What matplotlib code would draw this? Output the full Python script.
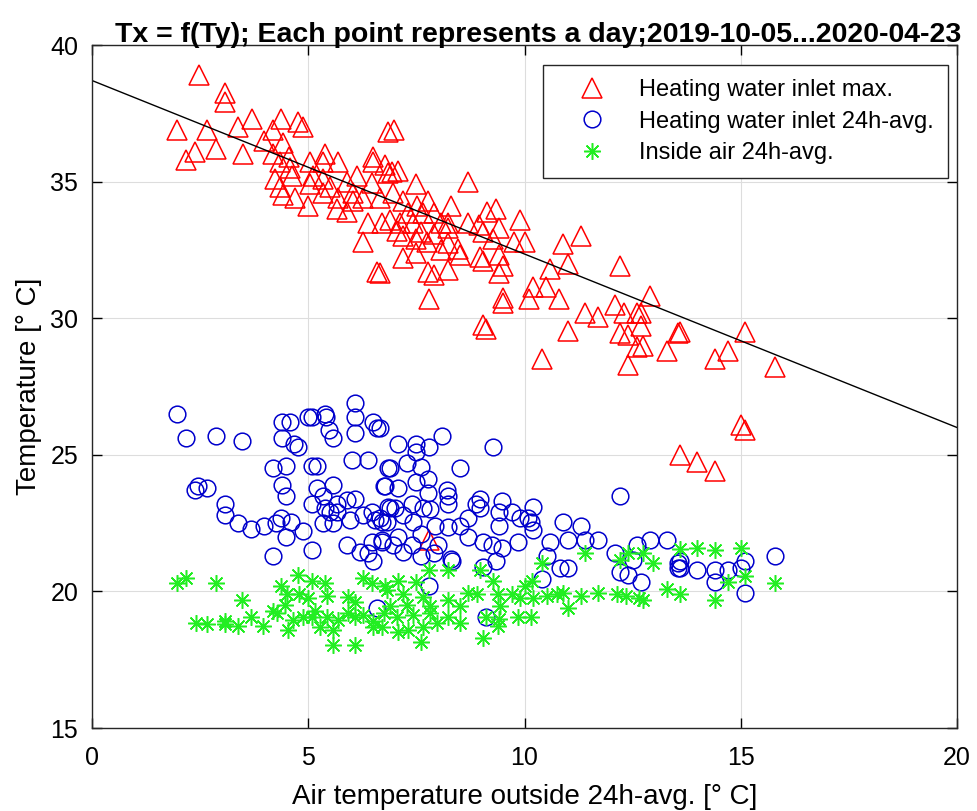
import numpy as np
import matplotlib
matplotlib.use('Agg')
import matplotlib.pyplot as plt

plt.rcParams['font.family'] = ['Liberation Sans', 'DejaVu Sans']

# Heating water inlet max (red triangles)
tri_x = [2.48, 3.08, 3.08, 1.97, 2.66, 3.38, 3.7, 2.38, 2.18, 2.87, 3.5, 4.38, 4.77, 4.88,
         4.19, 3.98, 4.42, 4.19, 4.56, 4.35, 4.58, 4.63, 4.24, 4.35, 4.42, 4.7, 5.0, 5.05,
         5.39, 5.35, 5.69, 5.1, 5.05, 5.35, 5.51, 5.35, 5.69, 5.67, 5.9, 5.9, 6.13, 6.04,
         6.04, 6.27, 6.5, 6.5, 6.78, 6.48, 6.67, 6.39, 6.71, 6.27, 6.6, 6.85, 6.85,
         6.99, 7.08, 6.94, 7.5, 8.7, 6.97, 7.2, 7.78, 8.29, 7.52, 7.31, 7.66, 7.9, 9.14,
         9.33, 9.9, 6.9, 7.13, 7.43, 8.06, 8.22, 8.7, 8.94, 9.4, 7.06, 7.6, 7.9, 8.22,
         9.05, 7.2, 7.48, 7.75, 8.22, 9.28, 9.75, 10.02, 8.06, 8.47, 8.52, 8.98, 9.03,
         9.4, 9.5, 7.48, 7.2, 10.9, 11.3, 11.0, 10.6, 12.2, 7.78, 7.9, 8.22, 9.4, 6.67,
         10.2, 10.5, 10.8, 9.5, 9.5, 10.1, 7.8, 12.9, 12.1, 12.3, 11.7, 11.4, 12.6, 12.7,
         9.03, 9.1, 11.0, 12.2, 12.4, 12.7, 12.6, 12.75, 12.4, 10.4, 13.55,
         13.6, 15.1, 13.3, 14.7, 14.4, 15.8, 15.0, 15.1, 13.6, 14.0, 14.4, 7.8]
tri_y = [38.9, 38.24, 37.9, 36.9, 36.9, 37.0, 37.3, 36.1, 35.8, 36.2, 36.0, 37.3, 37.2, 37.0,
         36.9, 36.5, 36.4, 36.0, 35.9, 35.7, 35.5, 35.2, 35.1, 34.8, 34.5, 34.4, 34.1, 35.7,
         36.0, 35.7, 35.7, 35.2, 34.9, 35.1, 34.8, 34.6, 34.4, 34.0, 33.9, 35.0, 35.2, 34.6,
         34.3, 34.4, 35.9, 35.7, 35.6, 34.95, 34.4, 33.5, 33.5, 32.8, 31.7, 36.8, 35.3,
         36.9, 35.4, 35.35, 34.9, 35.0, 34.6, 34.3, 34.3, 34.1, 34.1, 33.85, 33.85, 33.85, 33.9,
         34.0, 33.6, 33.6, 33.5, 33.5, 33.5, 33.5, 33.5, 33.4, 33.3, 33.2, 33.15, 33.1, 33.3,
         33.15, 33.0, 32.9, 32.8, 32.75, 32.9, 32.8, 32.8, 32.5, 32.55, 32.3, 32.25, 32.1,
         32.3, 31.9, 32.4, 32.2, 32.7, 33.0, 32.0, 31.8, 31.9, 31.7, 31.6, 31.75, 31.65, 31.65,
         31.15, 31.15, 30.7, 30.75, 30.55, 30.7, 30.7, 30.8, 30.5, 30.2, 30.05, 30.2, 30.2, 30.2,
         29.75, 29.6, 29.55, 29.45, 29.4, 29.7, 28.95, 29.0, 28.3, 28.5, 29.45,
         29.5, 29.5, 28.8, 28.8, 28.5, 28.2, 26.1, 25.9, 25.0, 24.75, 24.4, 21.9]

# Heating water inlet 24h-avg (blue circles)
circ_x = [1.97, 2.18, 2.87, 3.47, 4.4, 4.58, 4.4, 4.68, 4.77, 5.0, 5.09, 5.39, 5.42, 5.49,
          5.58, 6.09, 6.09, 6.09, 6.5, 6.6, 4.19, 4.49, 5.09, 5.2, 6.0, 6.39, 6.85, 4.4,
          4.49, 2.38, 2.45, 2.66, 5.2, 5.58, 6.74, 3.08, 3.08, 3.38, 3.68, 3.98, 4.26, 4.37,
          4.6, 4.49, 4.88, 4.19, 5.09, 5.09, 5.35, 5.39, 5.67, 5.9, 6.09, 5.51, 5.67, 5.35,
          5.58, 5.97, 6.27, 6.48, 6.55, 6.71, 6.9, 5.9, 6.2, 6.48, 6.71, 6.39, 6.5, 6.6,
          6.67, 8.1, 7.08, 7.5, 7.8, 9.28, 7.5, 6.9, 7.29, 7.6, 8.5, 7.78, 7.48, 6.78,
          7.08, 7.78, 8.2, 8.22, 8.22, 8.98, 9.49, 10.2, 12.2, 6.85, 7.0, 7.4, 7.66, 7.82,
          8.87, 8.98, 9.4, 9.72, 9.9, 10.07, 10.14, 6.67, 7.18, 6.83, 7.43, 8.7, 8.52, 9.4,
          10.9, 11.3, 10.2, 8.22, 7.94, 7.6, 7.08, 6.71, 6.97, 7.4, 8.0, 8.7, 9.03, 9.26,
          9.49, 9.84, 10.6, 11.0, 11.4, 11.7, 7.2, 7.6, 7.9, 8.29, 8.33, 9.03, 9.33, 10.53,
          10.83, 11.0, 10.4, 12.1, 12.6, 12.9, 13.3, 12.2, 12.4, 12.7, 12.5, 13.55, 13.55,
          7.8, 9.12, 13.6, 13.6, 14.0, 14.4, 14.4, 14.7, 15.0, 15.1, 15.1, 15.8]
circ_y = [26.5, 25.6, 25.7, 25.5, 26.2, 26.2, 25.6, 25.4, 25.3, 26.4, 26.4, 26.5, 26.4, 25.9,
          25.6, 26.9, 26.4, 25.8, 26.2, 26.0, 24.5, 24.6, 24.6, 24.6, 24.8, 24.8, 24.5, 23.9,
          23.5, 23.7, 23.85, 23.8, 23.8, 23.9, 23.85, 23.2, 22.8, 22.5, 22.3, 22.4, 22.5, 22.7,
          22.55, 22.0, 22.2, 21.3, 21.5, 23.2, 23.5, 23.05, 23.2, 23.35, 23.4, 22.9, 22.9, 22.5,
          22.5, 22.6, 22.8, 22.9, 22.6, 22.55, 23.05, 21.7, 21.45, 21.8, 21.9, 21.4, 21.1, 19.4,
          26.0, 25.7, 25.4, 25.4, 25.3, 25.3, 25.1, 24.5, 24.7, 24.55, 24.5, 24.1, 24.0, 23.85,
          23.8, 23.6, 23.7, 23.5, 23.2, 23.4, 23.3, 23.1, 23.5, 23.1, 23.05, 23.2, 23.05, 23.0,
          23.2, 23.05, 22.9, 22.9, 22.7, 22.7, 22.55, 22.7, 22.8, 22.55, 22.55, 22.7, 22.4, 22.4,
          22.55, 22.4, 22.25, 22.35, 22.4, 22.1, 22.0, 21.8, 21.7, 21.7, 21.7, 22.0, 21.8, 21.7,
          21.6, 21.8, 21.8, 21.9, 21.9, 21.9, 21.45, 21.3, 21.4, 21.2, 21.1, 20.9, 21.1, 21.3,
          20.85, 20.85, 20.45, 21.4, 21.7, 21.9, 21.9, 20.7, 20.6, 20.35, 21.15, 21.05, 20.85,
          20.2, 19.05, 21.1, 20.85, 20.8, 20.8, 20.35, 20.8, 20.85, 21.1, 19.95, 21.3]

# Inside air 24h-avg (green stars)
star_x = [1.97, 2.18, 2.87, 3.47, 2.4, 2.66, 3.08, 3.08, 3.38, 3.68, 3.96, 4.19, 4.28, 4.37,
          4.51, 4.47, 4.54, 4.65, 4.77, 4.79, 5.0, 5.09, 5.39, 5.44, 4.88, 5.16, 5.09, 5.28,
          5.44, 5.58, 5.58, 5.69, 5.93, 6.09, 5.93, 6.09, 6.09, 6.27, 6.48, 6.27, 6.5, 6.5,
          6.74, 6.78, 7.8, 8.22, 8.98, 10.4, 11.4, 7.08, 7.48, 9.28, 10.02, 10.18, 6.83, 7.2,
          7.66, 8.7, 8.91, 9.38, 9.72, 9.9, 10.2, 10.53, 10.76, 10.9, 11.3, 11.7, 12.15, 12.34,
          12.64, 12.73, 13.3, 6.9, 7.29, 7.82, 8.22, 8.52, 9.44, 11.0, 7.06, 7.43, 7.82, 8.22,
          7.98, 8.52, 9.1, 9.4, 9.84, 10.14, 7.08, 7.31, 7.66, 7.6, 9.03, 9.38, 6.71,
          12.2, 12.4, 12.75, 12.96, 13.6, 14.0, 14.4, 15.0, 15.1, 14.7, 13.6, 14.4, 15.8]
star_y = [20.3, 20.5, 20.3, 19.7, 18.85, 18.8, 18.8, 18.9, 18.75, 19.05, 18.75, 19.3, 19.2, 20.2,
          19.9, 19.5, 18.6, 18.95, 20.6, 19.9, 19.75, 20.4, 20.3, 19.85, 19.05, 19.3, 19.05, 18.7,
          19.05, 18.6, 18.05, 18.95, 19.8, 19.6, 19.2, 19.05, 18.05, 20.5, 20.3, 19.15, 18.9, 18.7,
          19.2, 20.2, 20.8, 20.8, 20.8, 21.05, 21.4, 20.4, 20.35, 20.4, 20.2, 20.4, 20.05, 19.9,
          19.8, 19.95, 19.9, 19.9, 19.9, 19.75, 19.75, 19.85, 19.9, 19.95, 19.85, 19.95, 19.9, 19.85,
          19.75, 19.7, 20.1, 19.45, 19.5, 19.45, 19.7, 19.45, 19.45, 19.4, 19.05, 19.15, 19.2, 19.05,
          18.85, 18.85, 19.05, 19.0, 19.05, 19.05, 18.5, 18.6, 18.7, 18.15, 18.3, 18.75, 18.7,
          21.15, 21.4, 21.4, 21.05, 21.55, 21.6, 21.5, 21.6, 20.55, 20.35, 19.9, 19.7, 20.3]

# regression line of the max inlet temperature
fit_x = [0, 20]
fit_y = [38.7, 26.0]

fig = plt.figure(figsize=(9.77, 8.11), dpi=100)
ax = fig.add_axes([0.0942, 0.1023, 0.8853, 0.8422])

ax.plot(tri_x, tri_y, linestyle='none', marker='^', markersize=14, markerfacecolor='none',
        markeredgecolor='red', markeredgewidth=1.1, label='Heating water inlet max.')
ax.plot(circ_x, circ_y, linestyle='none', marker='o', markersize=12, markerfacecolor='none',
        markeredgecolor='#0000cc', markeredgewidth=1.1, label='Heating water inlet 24h-avg.')
ax.plot(star_x, star_y, linestyle='none', marker=(8, 2, 0), markersize=12,
        markeredgecolor='#22ee22', markeredgewidth=1.1, label='Inside air 24h-avg.')
ax.plot(fit_x, fit_y, color='black', linewidth=1.0)

ax.set_xlim(0, 20)
ax.set_ylim(15, 40)
ax.set_xticks([0, 5, 10, 15, 20])
ax.set_yticks([15, 20, 25, 30, 35, 40])
ax.tick_params(direction='in', top=True, right=True, labelsize=18, length=7, width=1)
ax.tick_params(axis='x', pad=13)
ax.tick_params(axis='y', pad=10)
ax.grid(True, color='#dddddd', linewidth=0.8)
ax.set_axisbelow(True)
for s in ax.spines.values():
    s.set_linewidth(1.0)
    s.set_color('#262626')

ax.set_xlabel('Air temperature outside 24h-avg. [° C]', fontsize=20, labelpad=10)
ax.set_ylabel('Temperature [° C]', fontsize=20, labelpad=6)
ax.set_title('Tx = f(Ty); Each point represents a day;2019-10-05...2020-04-23',
             fontsize=20.5, fontweight='bold', pad=2, x=0.516)

leg = ax.legend(loc='upper right', bbox_to_anchor=(0.9896, 0.9707), fontsize=17,
                fancybox=False, framealpha=1, edgecolor='#262626', handlelength=2.9,
                handletextpad=0.55, borderpad=0.6, labelspacing=0.4, borderaxespad=0)
leg.get_frame().set_linewidth(1.0)

fig.savefig('out.png', dpi=100)
